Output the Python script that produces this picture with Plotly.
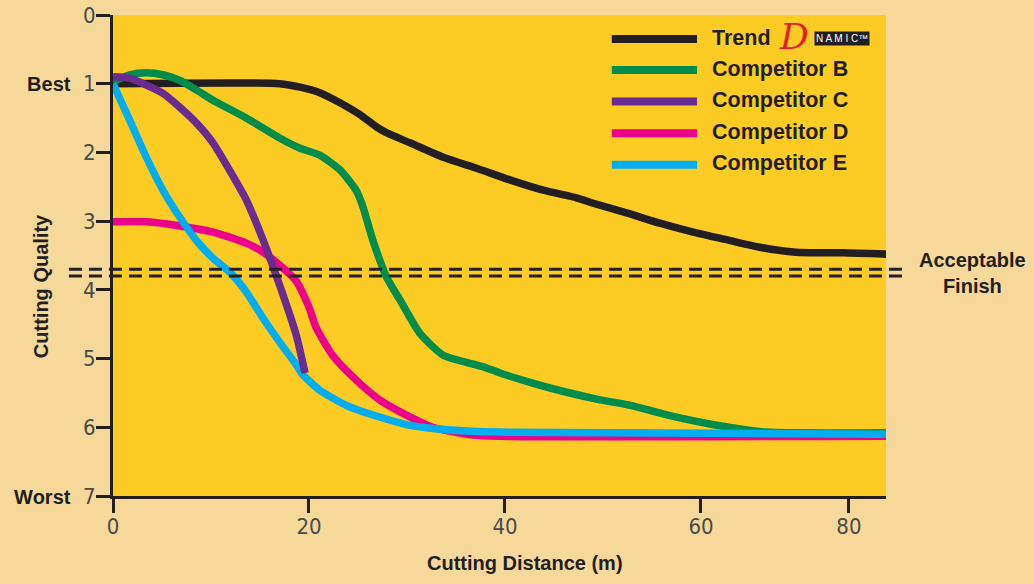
"""
切削质量对比图
"""
import plotly.graph_objects as go

# 数据 (x 轴按图上像素线性比例读取, 原图 80 刻度位置偏左)
trend_x = [0, 17.0, 19.1, 21.1, 23.2, 25.2, 26.9, 28.0, 30.3, 33.7, 37.1, 40.5, 43.9, 47.3,
           49.0, 52.4, 55.8, 59.2, 62.6, 66.0, 69.4, 71.1, 74.5, 78.9]
trend_y = [1.0, 1.0, 1.05, 1.13, 1.28, 1.45, 1.63, 1.72, 1.86, 2.07, 2.23, 2.40, 2.55, 2.66,
           2.74, 2.88, 3.03, 3.16, 3.27, 3.38, 3.45, 3.46, 3.46, 3.48]

comp_b_x = [0, 1.7, 3.4, 5.1, 6.8, 8.5, 10.2, 13.6, 17.0, 19.1, 21.1, 23.2, 24.8, 25.5,
            26.5, 27.9, 29.3, 31.3, 33.7, 37.8, 39.5, 42.9, 46.3, 49.7, 52.8, 56.5, 61.6,
            66.7, 78.9]
comp_b_y = [0.97, 0.87, 0.84, 0.87, 0.95, 1.09, 1.24, 1.50, 1.79, 1.94, 2.04, 2.26, 2.55, 2.79,
            3.27, 3.81, 4.15, 4.63, 4.95, 5.12, 5.21, 5.36, 5.49, 5.60, 5.68, 5.82, 5.97,
            6.07, 6.08]

comp_c_x = [0, 1.7, 3.4, 5.1, 6.8, 8.5, 10.2, 11.9, 13.6, 15.3, 17.0, 18.7, 19.6]
comp_c_y = [0.90, 0.92, 1.02, 1.14, 1.34, 1.57, 1.86, 2.26, 2.69, 3.27, 3.93, 4.66, 5.21]

comp_d_x = [0, 3.4, 6.8, 10.2, 13.6, 15.3, 17.0, 18.7, 19.6, 20.1, 20.7, 22.4, 24.5, 27.2,
            30.6, 32.6, 36.1, 39.5, 78.9]
comp_d_y = [3.01, 3.01, 3.07, 3.16, 3.32, 3.45, 3.64, 3.87, 4.12, 4.29, 4.54, 4.95, 5.27, 5.60,
            5.87, 6.00, 6.10, 6.13, 6.13]

comp_e_x = [0, 1.7, 3.4, 5.1, 6.8, 8.5, 10.2, 11.9, 13.6, 15.3, 17.0, 18.7, 19.4, 21.1,
            23.8, 27.2, 30.6, 34.4, 39.5, 78.9]
comp_e_y = [1.0, 1.53, 2.07, 2.55, 2.94, 3.28, 3.54, 3.74, 4.03, 4.41, 4.76, 5.09, 5.24, 5.46,
            5.68, 5.85, 5.98, 6.04, 6.07, 6.10]

series_names = ['Trend', 'Competitor B', 'Competitor C', 'Competitor D', 'Competitor E']
series_colors = ['#231F20', '#008C4A', '#6A2C91', '#EC008C', '#00AEEF']

x_tick_vals = [0, 20, 40, 60, 75.1]
x_tick_text = ['0', '20', '40', '60', '80']
y_tick_vals = [0, 1, 2, 3, 4, 5, 6, 7]

acceptable_levels = [3.70, 3.80]

BOLD = 'Liberation Sans, Arial, sans-serif'
NARROW = 'Liberation Sans Narrow, DejaVu Sans Condensed, Arial Narrow, sans-serif'
DARK = '#231F20'
PAPER = '#F6D89B'

series = {
    'Trend': (trend_x, trend_y),
    'Competitor B': (comp_b_x, comp_b_y),
    'Competitor C': (comp_c_x, comp_c_y),
    'Competitor D': (comp_d_x, comp_d_y),
    'Competitor E': (comp_e_x, comp_e_y),
}

fig = go.Figure()

# 绘制顺序: 紫线在最上层
draw_order = ['Trend', 'Competitor B', 'Competitor D', 'Competitor E', 'Competitor C']
for name in draw_order:
    xs, ys = series[name]
    color = series_colors[series_names.index(name)]
    fig.add_trace(go.Scatter(
        x=xs, y=ys, mode='lines', name=name,
        line=dict(color=color, width=7.5, shape='spline', smoothing=0.6),
        showlegend=False, hoverinfo='skip'
    ))

# 可接受线 (双虚线)
for lvl in acceptable_levels:
    fig.add_shape(type='line', xref='paper', yref='y',
                  x0=-0.057, x1=1.028, y0=lvl, y1=lvl,
                  line=dict(color=DARK, width=3, dash='13px,7px'))

# 自定义图例
legend_y = [0.35, 0.80, 1.26, 1.72, 2.18]
for i, name in enumerate(series_names):
    fig.add_shape(type='line', xref='x', yref='y',
                  x0=50.9, x1=59.6, y0=legend_y[i], y1=legend_y[i],
                  line=dict(color=series_colors[i], width=8))
    fig.add_annotation(x=60.9, y=legend_y[i] - 0.02, xref='x', yref='y', text=f'<b>{name}</b>',
                       showarrow=False, xanchor='left', yanchor='middle',
                       font=dict(family=BOLD, size=21.5, color=DARK))

# Dynamic 标志
fig.add_annotation(x=69.5, y=0.32, xref='x', yref='y', text='<i>D</i>', showarrow=False,
                   font=dict(family='DejaVu Serif, serif', size=36, color='#E31E24'))
fig.add_annotation(x=74.4, y=0.34, xref='x', yref='y', text='N A M I C™', showarrow=False,
                   font=dict(family=BOLD, size=10, color='white'),
                   bgcolor=DARK, borderpad=1)

# 右侧标注
fig.add_annotation(x=1.112, y=3.75, xref='paper', yref='y',
                   text='<b>Acceptable</b><br><b>Finish</b>', showarrow=False,
                   xanchor='center', yanchor='middle', align='center',
                   font=dict(family=BOLD, size=20, color=DARK))

# 坐标轴标题
fig.add_annotation(x=-0.094, y=0.437, xref='paper', yref='paper',
                   text='<b>Cutting Quality</b>', textangle=-90, showarrow=False,
                   xanchor='center', yanchor='middle',
                   font=dict(family=BOLD, size=20, color=DARK))
fig.add_annotation(x=0.533, y=-0.139, xref='paper', yref='paper',
                   text='<b>Cutting Distance (m)</b>', showarrow=False,
                   xanchor='center', yanchor='middle',
                   font=dict(family=BOLD, size=20, color=DARK))

word_style = f'font-family:{BOLD};font-size:20px;color:{DARK}'
y_tick_text = []
for v in y_tick_vals:
    if v == 1:
        y_tick_text.append(f'<span style="{word_style}"><b>Best</b></span>\u00a0\u00a01')
    elif v == 7:
        y_tick_text.append(f'<span style="{word_style}"><b>Worst</b></span>\u00a0\u00a07')
    else:
        y_tick_text.append(str(v))

fig.update_xaxes(
    range=[0, 78.88], tickvals=x_tick_vals, ticktext=x_tick_text, automargin=False,
    showgrid=False, zeroline=False, showline=True, linecolor=DARK, linewidth=3,
    ticks='outside', ticklen=14, tickwidth=3, tickcolor=DARK, ticklabelstandoff=-5,
    tickfont=dict(family=NARROW, size=22, color='#4A4A4A')
)
fig.update_yaxes(
    range=[7, 0], tickvals=y_tick_vals, ticktext=y_tick_text, automargin=False,
    showgrid=False, zeroline=False, showline=True, linecolor=DARK, linewidth=3,
    ticks='outside', ticklen=14, tickwidth=3, tickcolor=DARK, ticklabelstandoff=-4,
    tickfont=dict(family=NARROW, size=22, color='#4A4A4A')
)

fig.update_layout(
    width=1034, height=584,
    margin=dict(l=113, r=148, t=15, b=88),
    plot_bgcolor='#FDCC24',
    paper_bgcolor=PAPER,
    showlegend=False,
    hovermode=False
)

# 去掉页面默认边距和工具栏
fig.write_html("out.html", config={'displayModeBar': False},
               post_script=f"document.body.style.margin='0';document.body.style.background='{PAPER}';")
